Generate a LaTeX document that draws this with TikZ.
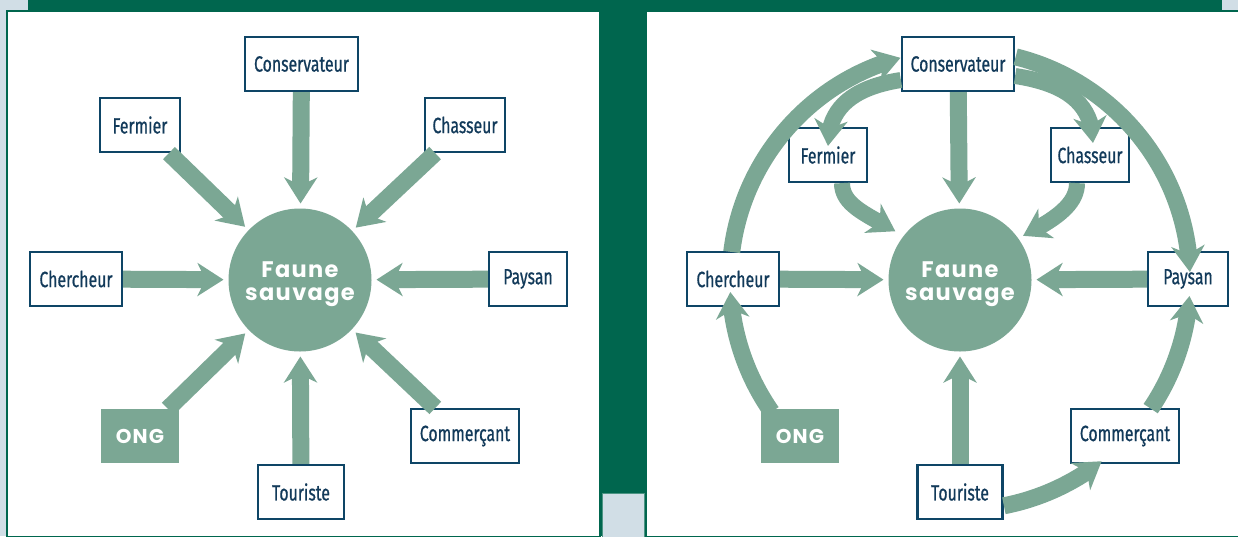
\documentclass[tikz,border=0pt]{standalone}
\usepackage{fontspec}
\usetikzlibrary{arrows.meta,bending}
\newfontfamily\lblfont[FakeStretch=0.72,FakeBold=0.7]{Fira Sans}
\newfontfamily\bigfont[LetterSpace=6]{Poppins}
\definecolor{dkgreen}{HTML}{00664E}
\definecolor{ltblue}{HTML}{D1DEE6}
\definecolor{agreen}{HTML}{7BA794}
\definecolor{navy}{HTML}{0E4566}
\definecolor{ntext}{HTML}{123A5A}
\tikzset{
  box/.style={draw=navy, line width=2.2pt, fill=white, minimum height=54pt, inner sep=0pt,
    text=ntext, font=\lblfont\fontsize{22}{24}\selectfont},
  ongbox/.style={fill=agreen, minimum height=54pt, minimum width=78pt, inner sep=0pt,
    text=white, font=\bigfont\bfseries\fontsize{20}{22}\selectfont},
  faune/.style={circle, fill=agreen, minimum size=143pt, inner sep=0pt, outer sep=0pt,
    text=white, align=center, font=\bigfont\bfseries\fontsize{22.5}{23}\selectfont},
  arr/.style={draw=agreen, line width=17pt, shorten >=5pt,
    -{Stealth[length=26pt,width=33pt,inset=8pt]}},
  arcarr/.style={draw=agreen, line width=17pt,
    -{Stealth[length=26pt,width=33pt,inset=8pt]}},
}
\newcommand{\faunetxt}{\rule{0pt}{24pt}Faune\\sauvage}
\begin{document}
\begin{tikzpicture}[x=1pt,y=1pt]
\useasboundingbox (0,0) rectangle (1238,-536);
% background
\fill[ltblue] (0,0) rectangle (1238,-536);
\fill[dkgreen] (28,0) rectangle (1222,-11);
\filldraw[fill=white, draw=dkgreen, line width=1.5pt] (7,-11) rectangle (600,-537);
\filldraw[fill=white, draw=dkgreen, line width=1.5pt] (646,-11) rectangle (1239,-537);
\fill[dkgreen] (600,0) rectangle (646,-536);
\filldraw[fill=ltblue, draw=dkgreen!70!white, line width=0.8pt] (602,-493) rectangle (644,-537);

% ---------------- left panel ----------------
\node[faune] (faune1) at (300,-280) {\faunetxt};
\node[box, minimum width=113pt] (cons1) at (301.5,-64) {Conservateur};
\node[box, minimum width=80pt] (fer1) at (140,-125) {Fermier};
\node[box, minimum width=80pt] (chas1) at (465,-125) {Chasseur};
\node[box, minimum width=92pt] (cher1) at (76,-279) {Chercheur};
\node[box, minimum width=78pt] (pay1) at (528,-279) {Paysan};
\node[ongbox] (ong1) at (140,-436) {ONG};
\node[box, minimum width=86pt] (tour1) at (301,-492) {Touriste};
\node[box, minimum width=108pt] (comm1) at (465,-436) {Commerçant};

\draw[arr] (cons1) -- (faune1);
\draw[arr] (fer1) -- (faune1);
\draw[arr] (chas1) -- (faune1);
\draw[arr] (cher1) -- (faune1);
\draw[arr] (pay1) -- (faune1);
\draw[arr] (ong1) -- (faune1);
\draw[arr] (tour1) -- (faune1);
\draw[arr] (comm1) -- (faune1);

% ---------------- right panel ----------------
\node[faune] (faune2) at (960,-280) {\faunetxt};
\node[box, minimum width=112pt] (cons2) at (958,-64) {Conservateur};
\node[box, minimum width=78pt] (fer2) at (828,-155) {Fermier};
\node[box, minimum width=78pt] (chas2) at (1090,-155) {Chasseur};
\node[box, minimum width=92pt] (cher2) at (733,-279) {Chercheur};
\node[box, minimum width=80pt] (pay2) at (1188,-279) {Paysan};
\node[ongbox] (ong2) at (800,-436) {ONG};
\node[box, minimum width=85pt] (tour2) at (960,-492) {Touriste};
\node[box, minimum width=108pt] (comm2) at (1125,-436) {Commerçant};

\draw[arr] (cons2) -- (faune2);
\draw[arr] (cher2) -- (faune2);
\draw[arr] (pay2) -- (faune2);
\draw[arr] (tour2) -- (faune2);

% curved arrows
\draw[arcarr, line width=16pt] ([xshift=14pt]fer2.south) .. controls (842,-205) and (866,-214) .. ([shift={(143:81)}]faune2.center);
\draw[arcarr, line width=16pt] ([xshift=-13pt]chas2.south) .. controls (1077,-205) and (1054,-220) .. ([shift={(35:77)}]faune2.center);
\draw[arcarr, line width=16pt] ([yshift=-16pt]cons2.west) .. controls (850,-88) and (828,-110) .. ([yshift=-19pt]fer2.north);
\draw[arcarr, line width=16pt] ([yshift=-12pt]cons2.east) .. controls (1068,-84) and (1093,-105) .. ([shift={(3,12)}]chas2.center);

% big ring arcs
\draw[arcarr] ([shift={(173:230)}]faune2.center) arc[start angle=173, end angle=105, radius=230];
\draw[arcarr] ([shift={(76:230)}]faune2.center) arc[start angle=76, end angle=2, radius=230];
\draw[arcarr] ([shift={(215:230)}]faune2.center) arc[start angle=215, end angle=183, radius=230];
\draw[arcarr] ([shift={(-79:230)}]faune2.center) arc[start angle=-79, end angle=-52, radius=230];
\draw[arcarr] ([shift={(-34:230)}]faune2.center) arc[start angle=-34, end angle=-4, radius=230];
\end{tikzpicture}
\end{document}
